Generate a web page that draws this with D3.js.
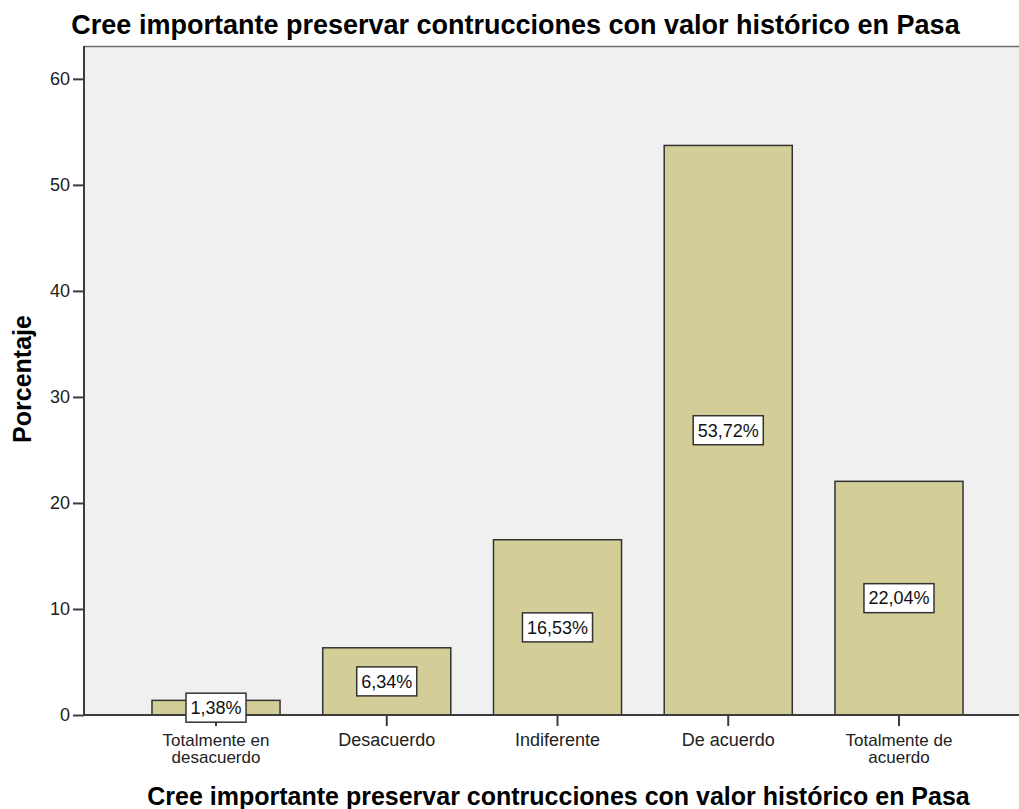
<!DOCTYPE html>
<html>
<head>
<meta charset="utf-8">
<script src="https://cdn.jsdelivr.net/npm/d3@7"></script>
<style>
  html, body { margin: 0; padding: 0; background: #ffffff; }
  svg { display: block; font-family: "Liberation Sans", Arial, sans-serif; }
</style>
</head>
<body>
<svg id="chart" width="1019" height="809"></svg>
<script>
const chartTitle = "Cree importante preservar contrucciones con valor histórico en Pasa";
const xAxisTitle = "Cree importante preservar contrucciones con valor histórico en Pasa";
const yAxisTitle = "Porcentaje";
const categories = ["Totalmente en desacuerdo", "Desacuerdo", "Indiferente", "De acuerdo", "Totalmente de acuerdo"];
const categoryLines = [["Totalmente en", "desacuerdo"], ["Desacuerdo"], ["Indiferente"], ["De acuerdo"], ["Totalmente de", "acuerdo"]];
const percentages = [1.38, 6.34, 16.53, 53.72, 22.04];
const yTicks = [0, 10, 20, 30, 40, 50, 60];

const W = 1019, H = 809;
const frame = { left: 84, top: 46, right: 1019, bottom: 715 };
const axisColor = "#3c3c3c";
const barFill = "#d3ce97";

const svg = d3.select("#chart");

const y = d3.scaleLinear().domain([0, 63.1]).range([frame.bottom, frame.top]);
const x = d3.scaleBand().domain(categories).range([109.3, 1005.7]).paddingInner(0.25).paddingOuter(0.25);

const locale = d3.formatLocale({ decimal: ",", thousands: ".", grouping: [3], currency: ["", "€"] });
const fmt = locale.format(".2f");

// plot background
svg.append("rect")
  .attr("x", frame.left).attr("y", frame.top)
  .attr("width", frame.right - frame.left).attr("height", frame.bottom - frame.top)
  .attr("fill", "#f0f0f0");

// top border
svg.append("line")
  .attr("x1", frame.left).attr("x2", frame.right)
  .attr("y1", frame.top + 0.5).attr("y2", frame.top + 0.5)
  .attr("stroke", "#6e6e6e").attr("stroke-width", 1.5);

// bars
const data = categories.map((c, i) => ({ cat: c, val: percentages[i], lines: categoryLines[i] }));
svg.append("g").selectAll("rect").data(data).join("rect")
  .attr("x", d => x(d.cat))
  .attr("y", d => y(d.val))
  .attr("width", x.bandwidth())
  .attr("height", d => y(0) - y(d.val))
  .attr("fill", barFill)
  .attr("stroke", "#333")
  .attr("stroke-width", 1.5);

// y axis
const yAxis = svg.append("g")
  .attr("transform", `translate(${frame.left},0)`)
  .call(d3.axisLeft(y).tickValues(yTicks).tickSize(11).tickPadding(3).tickFormat(d3.format("d")));
yAxis.select(".domain").attr("stroke", axisColor).attr("stroke-width", 2)
  .attr("d", `M0,${frame.top}V${frame.bottom}`);
yAxis.selectAll(".tick line").attr("stroke", axisColor).attr("stroke-width", 2);
yAxis.selectAll(".tick text").attr("font-size", 18).attr("fill", "#222")
  .attr("font-family", "'Liberation Sans', Arial, sans-serif");

// x axis
const xAxis = svg.append("g")
  .attr("transform", `translate(0,${frame.bottom})`)
  .call(d3.axisBottom(x).tickSize(11).tickFormat(""));
xAxis.select(".domain").attr("stroke", axisColor).attr("stroke-width", 2)
  .attr("d", `M${frame.left},0H${frame.right}`);
xAxis.selectAll(".tick line").attr("stroke", axisColor).attr("stroke-width", 2);
xAxis.selectAll(".tick").each(function(d, i) {
  const lines = categoryLines[i];
  const t = d3.select(this).append("text")
    .attr("fill", "#222").attr("font-size", lines.length > 1 ? 17 : 18).attr("text-anchor", "middle")
    .attr("font-family", "'Liberation Sans', Arial, sans-serif");
  lines.forEach((ln, j) => {
    t.append("tspan").attr("x", 0).attr("y", 31 + j * 17).text(ln);
  });
});

// value labels
const lab = svg.append("g").selectAll("g").data(data).join("g")
  .attr("transform", d => `translate(${x(d.cat) + x.bandwidth() / 2},${y(d.val / 2)})`);
lab.each(function(d) {
  const g = d3.select(this);
  const txt = g.append("text")
    .attr("text-anchor", "middle").attr("dy", "0.35em")
    .attr("font-size", 18).attr("fill", "#111")
    .text(fmt(d.val) + "%");
  const w = txt.node().getComputedTextLength() + 9;
  g.insert("rect", "text")
    .attr("x", -w / 2).attr("y", -14.5).attr("width", w).attr("height", 29)
    .attr("fill", "#ffffff").attr("stroke", "#333").attr("stroke-width", 1.5);
});

// titles
svg.append("text")
  .attr("x", 515.5).attr("y", 34).attr("text-anchor", "middle")
  .attr("font-size", 27).attr("font-weight", "bold").attr("fill", "#000")
  .text(chartTitle);

svg.append("text")
  .attr("x", 558.5).attr("y", 805).attr("text-anchor", "middle")
  .attr("font-size", 25).attr("font-weight", "bold").attr("fill", "#000")
  .text(xAxisTitle);

svg.append("text")
  .attr("transform", `translate(31,379) rotate(-90)`)
  .attr("text-anchor", "middle")
  .attr("font-size", 25).attr("font-weight", "bold").attr("fill", "#000")
  .text(yAxisTitle);
</script>
</body>
</html>
